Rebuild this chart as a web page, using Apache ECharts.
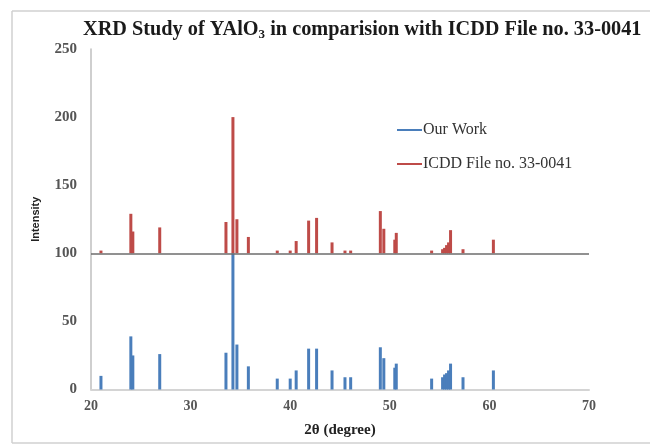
<!DOCTYPE html>
<html>
<head>
<meta charset="utf-8">
<script src="https://cdn.jsdelivr.net/npm/echarts@6/dist/echarts.min.js"></script>
<style>
    html, body { margin: 0; padding: 0; background: #fff; }
    #main { width: 650px; height: 446px; }
</style>
</head>
<body>
<div id="main"></div>
<script>
    // 2θ positions and intensities
    const ourX = [21.0, 24.0, 24.2, 26.9, 33.55, 34.25, 34.65, 35.8, 38.7, 40.0, 40.6, 41.85, 42.65, 44.2,
        45.5, 46.07, 49.05, 49.4, 50.5, 50.65, 54.2, 55.3, 55.5, 55.7, 55.9, 56.1, 57.35, 60.4];
    const ourY = [10, 39, 25, 26, 27, 100, 33, 17, 8, 8, 14, 30, 30, 14,
        9, 9, 31, 23, 16, 19, 8, 9, 11, 12, 14, 19, 9, 14];

    // ICDD 33-0041 peaks, drawn on a baseline of 100
    const icddX = [21.0, 24.0, 24.2, 26.9, 33.55, 34.25, 34.65, 35.8, 38.7, 40.0, 40.6, 41.85, 42.65, 44.2,
        45.5, 46.07, 49.05, 49.4, 50.5, 50.65, 54.2, 55.3, 55.5, 55.7, 55.9, 56.1, 57.35, 60.4];
    const icddY = [2, 29, 16, 19, 23, 100, 25, 12, 2, 2, 9, 24, 26, 8,
        2, 2, 31, 18, 10, 15, 2, 3, 4, 6, 8, 17, 3, 10];
    const icddBase = 100;

    const xTicks = [20, 30, 40, 50, 60, 70];
    const yTicks = [0, 50, 100, 150, 200, 250];

    const serif = '"Liberation Serif", "DejaVu Serif", serif';
    const blue = '#4a7ebb';
    const red = '#be4b48';

    var myChart = echarts.init(document.getElementById('main'));

    let option = {
        backgroundColor: '#fff',
        animation: false,
        title: {
            text: '{t|XRD Study of YAlO}{s|3}{t| in comparision with ICDD File no. 33-0041}',
            left: 78,
            top: 13,
            textStyle: {
                rich: {
                    t: { fontFamily: serif, fontWeight: 'bold', fontSize: 20.3, color: '#1a1a1a' },
                    s: { fontFamily: serif, fontWeight: 'bold', fontSize: 13, color: '#1a1a1a', padding: [10, 0, 0, 0] }
                }
            }
        },
        legend: {
            orient: 'vertical',
            left: 392,
            top: 117,
            itemGap: 18,
            itemWidth: 25,
            itemHeight: 2,
            icon: 'rect',
            data: ['Our Work', 'ICDD File no. 33-0041'],
            textStyle: { fontFamily: serif, fontSize: 16, color: '#333', padding: [0, 0, 0, -4] }
        },
        grid: {
            left: 91,
            right: 61,
            top: 49,
            bottom: 56.5,
            containLabel: false
        },
        xAxis: {
            type: 'value',
            min: xTicks[0],
            max: xTicks[xTicks.length - 1],
            interval: 10,
            name: '2θ (degree)',
            nameLocation: 'middle',
            nameGap: 33,
            nameTextStyle: { fontFamily: serif, fontWeight: 'bold', fontSize: 15, color: '#222' },
            axisLine: { lineStyle: { color: '#d4d4d4', width: 2 } },
            axisTick: { show: false },
            splitLine: { show: false },
            axisLabel: {
                margin: 10,
                fontFamily: serif,
                fontWeight: 'bold',
                fontSize: 14,
                color: '#555',
                formatter: function (v) { return xTicks.indexOf(v) >= 0 ? String(v) : ''; }
            }
        },
        yAxis: {
            type: 'value',
            min: yTicks[0],
            max: yTicks[yTicks.length - 1],
            interval: 50,
            name: 'Intensity',
            nameLocation: 'middle',
            nameRotate: 90,
            nameGap: 50,
            nameTextStyle: {
                fontFamily: '"Liberation Sans Narrow", "Liberation Sans", sans-serif',
                fontWeight: 'bold', fontSize: 11, color: '#222'
            },
            axisLine: { show: true, lineStyle: { color: '#bfbfbf', width: 1.5 } },
            axisTick: { show: false },
            splitLine: { show: false },
            axisLabel: {
                margin: 14,
                fontFamily: serif,
                fontWeight: 'bold',
                fontSize: 15,
                color: '#555'
            }
        },
        series: [
            {
                name: 'Our Work',
                type: 'bar',
                barWidth: 3,
                itemStyle: { color: blue },
                data: ourX.map((x, i) => [x, ourY[i]])
            },
            {
                name: 'ICDD File no. 33-0041',
                type: 'custom',
                itemStyle: { color: red },
                renderItem: function (params, api) {
                    const x = api.value(0);
                    const p0 = api.coord([x, icddBase]);
                    const p1 = api.coord([x, icddBase + api.value(1)]);
                    return {
                        type: 'rect',
                        shape: { x: p0[0] - 1.5, y: p1[1], width: 3, height: p0[1] - p1[1] },
                        style: { fill: red }
                    };
                },
                data: icddX.map((x, i) => [x, icddY[i]]),
                markLine: {
                    silent: true,
                    symbol: 'none',
                    label: { show: false },
                    lineStyle: { color: '#6d6d6d', width: 1.5, type: 'solid' },
                    data: [{ yAxis: icddBase }]
                }
            }
        ],
        graphic: [
            // outer frame of the original figure
            { type: 'line', shape: { x1: 12, y1: 11, x2: 650, y2: 11 }, style: { stroke: '#d0d0d0', lineWidth: 1.5 }, silent: true },
            { type: 'line', shape: { x1: 12, y1: 11, x2: 12, y2: 443 }, style: { stroke: '#d0d0d0', lineWidth: 1.5 }, silent: true },
            { type: 'line', shape: { x1: 12, y1: 443, x2: 650, y2: 443 }, style: { stroke: '#d0d0d0', lineWidth: 1.5 }, silent: true }
        ]
    };

    myChart.setOption(option);
</script>
</body>
</html>
